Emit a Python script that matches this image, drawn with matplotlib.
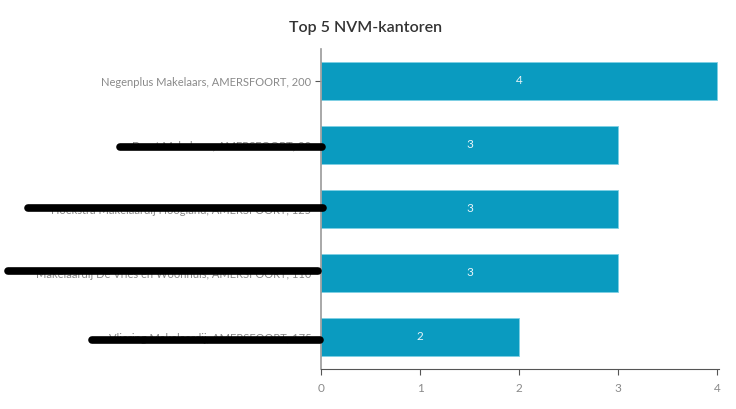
import matplotlib
matplotlib.use("Agg")
import matplotlib.pyplot as plt
from matplotlib.lines import Line2D

categories = [
    "Negenplus Makelaars, AMERSFOORT, 200",
    "Drost Makelaars, AMERSFOORT, 90",
    "Hoekstra Makelaardij Hoogland, AMERSFOORT, 125",
    "Makelaardij De Vries en Woonhuis, AMERSFOORT, 110",
    "Vliering Makelaardij, AMERSFOORT, 175",
]
values = [4, 3, 3, 3, 2]
xticks = [0, 1, 2, 3, 4]

bar_color = "#0a9bc0"
gray = "#8a8a8a"

plt.rcParams["font.family"] = ["Lato", "DejaVu Sans"]

fig = plt.figure(figsize=(7.36, 4.09), dpi=100)
ax = fig.add_axes([321 / 736, 1 - 369 / 409, 398 / 736, 320 / 409])

ypos = list(range(len(categories)))
ax.barh(ypos, values, height=0.6, color=bar_color, edgecolor="#7fd0e4", linewidth=0.6)
for y, v in zip(ypos, values):
    ax.text(v / 2, y, str(v), ha="center", va="center", color="#e8f4f8", fontsize=8.5)

ax.set_yticks(ypos)
ax.set_yticklabels(categories, fontsize=8, color=gray)
ax.set_ylim(len(categories) - 0.5, -0.5)
ax.set_xlim(0, 4.02)
ax.set_xticks(xticks)
ax.set_xticklabels([str(t) for t in xticks], fontsize=8.5, color=gray)
ax.tick_params(axis="x", length=4, width=0.8, color="#555555", pad=6)
ax.tick_params(axis="y", length=4, width=0.8, color="#555555", pad=3)
for s in ["top", "right"]:
    ax.spines[s].set_visible(False)
ax.spines["left"].set_color("#999999")
ax.spines["left"].set_linewidth(1.2)
ax.spines["bottom"].set_color("#555555")
ax.spines["bottom"].set_linewidth(0.8)

fig.text(366 / 736, 1 - 28 / 409, "Top 5 NVM-kantoren", ha="center", va="center",
         fontsize=11.5, color="#333333", fontweight="semibold")

# redaction strokes over labels 2-5 (figure pixel coordinates)
strokes = [(120, 322, 147), (28, 323, 208), (8, 318, 271), (92, 320, 340)]
for x0, x1, yy in strokes:
    fig.add_artist(Line2D([x0 / 736, x1 / 736], [1 - yy / 409, 1 - yy / 409],
                          transform=fig.transFigure, color="black",
                          linewidth=5.5, solid_capstyle="round"))

fig.savefig("out.png", dpi=100)
